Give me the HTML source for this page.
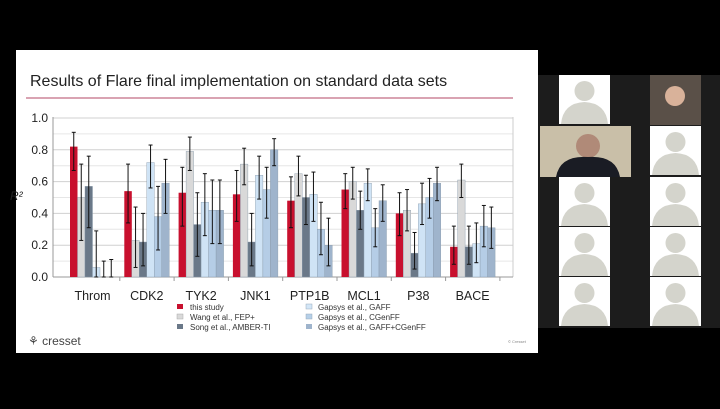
<!DOCTYPE html><html><head><style>body{margin:0;background:#000;width:720px;height:404px;overflow:hidden;font-family:"Liberation Sans",sans-serif}</style></head><body>
<svg width="720" height="404" xmlns="http://www.w3.org/2000/svg" font-family="Liberation Sans, sans-serif">
<rect width="720" height="404" fill="#000"/>
<rect x="538" y="75" width="182" height="253" fill="#1c1c1c"/>
<g id="tiles"></g>
<rect x="16" y="50" width="522" height="303" fill="#fff"/>
<text x="30" y="86" font-size="16" fill="#222">Results of Flare final implementation on standard data sets</text>
<rect x="26" y="97" width="487" height="2" fill="#d9a3b2"/>
<g id="chart"></g>
<text x="66" y="300" font-size="12.5" fill="#222" id="xl"></text>
<g font-size="8" fill="#333">
<rect x="177" y="304" width="6" height="5" fill="#c8102e"/><text x="190" y="310">this study</text>
<rect x="177" y="314" width="6" height="5" fill="#d9d9d9" stroke="#aaa" stroke-width=".5"/><text x="190" y="320">Wang et al., FEP+</text>
<rect x="177" y="324" width="6" height="5" fill="#6a7888"/><text x="190" y="330">Song et al., AMBER-TI</text>
<rect x="306" y="304" width="6" height="5" fill="#d3e6f7" stroke="#9ab" stroke-width=".5"/><text x="318" y="310">Gapsys et al., GAFF</text>
<rect x="306" y="314" width="6" height="5" fill="#b5cfe8" stroke="#9ab" stroke-width=".5"/><text x="318" y="320">Gapsys et al., CGenFF</text>
<rect x="306" y="324" width="6" height="5" fill="#9fb4cc"/><text x="318" y="330">Gapsys et al., GAFF+CGenFF</text>
</g>
<text x="28" y="345" font-size="12" fill="#444">⚘ cresset</text>
<text x="508" y="343" font-size="4" fill="#888">© Cresset</text>
<text x="10" y="200" font-size="12" font-style="italic" fill="#222">R²</text>
</svg>
<script>
const ns="http://www.w3.org/2000/svg";
function el(p,t,a,txt){const e=document.createElementNS(ns,t);for(const k in a)e.setAttribute(k,a[k]);if(txt!=null)e.textContent=txt;p.appendChild(e);return e;}
const c=document.getElementById('chart');
const Y=v=>277-v*159;
for(let i=0;i<=10;i++){el(c,'line',{x1:53,x2:513,y1:Y(i/10),y2:Y(i/10),stroke:i%2?'#e6e6e6':'#d0d0d0','stroke-width':1});
if(i%2==0)el(c,'text',{x:48,y:Y(i/10)+4,'font-size':12,'text-anchor':'end',fill:'#222'},(i/10).toFixed(1));}
el(c,'line',{x1:53,x2:53,y1:117,y2:277,stroke:'#999'});
el(c,'line',{x1:513,x2:513,y1:117,y2:277,stroke:'#ccc'});
el(c,'line',{x1:53,x2:513,y1:277,y2:277,stroke:'#999'});
const cols=['#c8102e','#d9d9d9','#6a7888','#cfe3f5','#b5cde6','#9fb4cc'];
const D=[[[.82,.67,.91],[.5,.23,.71],[.57,.31,.76],[.06,0,.29],[0,0,.1],[0,0,.11]],
[[.54,.34,.71],[.23,.06,.44],[.22,.07,.40],[.72,.56,.83],[.38,.17,.57],[.59,.40,.74]],
[[.53,.32,.69],[.79,.67,.88],[.33,.13,.53],[.47,.26,.65],[.42,.21,.61],[.42,.21,.61]],
[[.52,.35,.67],[.71,.58,.81],[.22,.07,.40],[.64,.49,.76],[.55,.37,.69],[.80,.70,.87]],
[[.48,.31,.63],[.65,.51,.76],[.50,.33,.64],[.52,.35,.66],[.30,.14,.47],[.20,.07,.37]],
[[.55,.43,.65],[.60,.49,.69],[.42,.30,.54],[.59,.48,.68],[.31,.19,.43],[.48,.35,.58]],
[[.40,.26,.53],[.42,.29,.55],[.15,.05,.28],[.46,.33,.59],[.50,.37,.62],[.59,.48,.69]],
[[.19,.08,.32],[.61,.50,.71],[.19,.08,.32],[.21,.09,.34],[.32,.19,.45],[.31,.18,.44]]];
const names=['Throm','CDK2','TYK2','JNK1','PTP1B','MCL1','P38','BACE'];
D.forEach((g,gi)=>{const x0=70+gi*54.3;
g.forEach((b,bi)=>{const x=x0+bi*7.5;
el(c,'rect',{x:x,y:Y(b[0]),width:7.5,height:b[0]*159,fill:cols[bi],stroke:bi==0?'none':'#8899aa','stroke-width':.4});
const cx=x+3.75;el(c,'line',{x1:cx,x2:cx,y1:Y(b[1]),y2:Y(b[2]),stroke:'#111','stroke-width':1});
el(c,'line',{x1:cx-2,x2:cx+2,y1:Y(b[1]),y2:Y(b[1]),stroke:'#111'});
el(c,'line',{x1:cx-2,x2:cx+2,y1:Y(b[2]),y2:Y(b[2]),stroke:'#111'});});
el(c,'line',{x1:x0-4.5+54.3,x2:x0-4.5+54.3,y1:277,y2:281,stroke:'#999'});
el(c,'text',{x:x0+22.5,y:300,'font-size':12.5,'text-anchor':'middle',fill:'#222'},names[gi]);});
const t=document.getElementById('tiles');
const rows=[75,126,177,227,277];
[559,650].forEach(x=>rows.forEach(y=>{el(t,'rect',{x:x,y:y,width:51,height:49,fill:'#fff'});
el(t,'circle',{cx:x+25.5,cy:y+16,r:10,fill:'#d4d4cc'});
el(t,'path',{d:`M${x+2} ${y+49} Q${x+4} ${y+28} ${x+25.5} ${y+27} Q${x+47} ${y+28} ${x+49} ${y+49}Z`,fill:'#d4d4cc'});}));
el(t,'rect',{x:650,y:75,width:51,height:50,fill:'#5a5048'});
el(t,'circle',{cx:675,cy:96,r:10,fill:'#d9b29a'});
el(t,'rect',{x:540,y:126,width:91,height:51,fill:'#c9bfa8'});
el(t,'circle',{cx:588,cy:146,r:12,fill:'#b08a78'});
el(t,'path',{d:'M556 177 Q560 155 588 157 Q616 155 620 177Z',fill:'#1a1c24'});
</script>
</body></html>
